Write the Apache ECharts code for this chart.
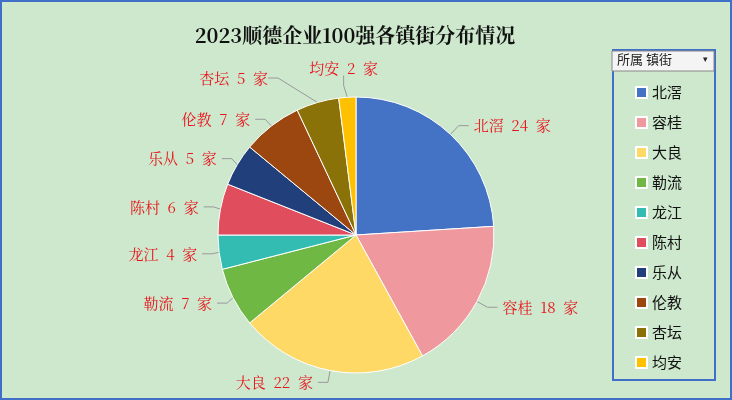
<!DOCTYPE html><html><head><meta charset="utf-8">
<script src="https://cdn.jsdelivr.net/npm/echarts@6/dist/echarts.min.js"></script>
<style>html,body{margin:0;padding:0;}#c{width:732px;height:400px;}</style></head><body><div id="c"></div>
<script>
const towns=['北滘','容桂','大良','勒流','龙江','陈村','乐从','伦教','杏坛','均安'];
const counts=[24,18,22,7,4,6,5,7,5,2];
const colors=['#4472C4','#EF989D','#FFD966','#70B844','#33BDB2','#E04D5D','#213F7B','#9C4710','#8B7208','#FFC000'];
const chart=echarts.init(document.getElementById('c'));
chart.setOption({
  backgroundColor:'#CDE8CD',
  title:{text:'2023顺德企业100强各镇街分布情况',left:350,textAlign:'center',top:20,textStyle:{fontFamily:'Noto Serif CJK SC, Noto Sans CJK SC',fontWeight:'bold',fontSize:20,color:'#111'}},
  legend:{orient:'vertical',left:630,top:80,itemWidth:11,itemHeight:11,itemGap:15,icon:'rect',
    textStyle:{fontFamily:'Noto Sans CJK SC',fontSize:15,color:'#111'},data:towns},
  graphic:[
    {type:'rect',shape:{x:1,y:1,width:730,height:398},style:{fill:'none',stroke:'#3F6FC6',lineWidth:2}},
    {type:'rect',shape:{x:613,y:50,width:102,height:330},style:{fill:'none',stroke:'#3F6FC6',lineWidth:2}},
    {type:'rect',shape:{x:612,y:51,width:102,height:20},style:{fill:'#F4F4F4',stroke:'#888',lineWidth:1}},
    {type:'text',left:617,top:53,style:{text:'所属 镇街',font:'13px "Noto Sans CJK SC"',fill:'#222'}},
    {type:'text',left:703,top:55,style:{text:'▾',font:'9px sans-serif',fill:'#222'}}
  ],
  series:[{type:'pie',center:[356,235],radius:138,startAngle:90,clockwise:true,
    itemStyle:{borderColor:'#fff',borderWidth:1},
    label:{formatter:'{b}  {c}  家',color:'#E8141B',fontSize:15,fontFamily:'Noto Serif CJK SC, Noto Sans CJK SC'},
    labelLine:{length:12,length2:10,lineStyle:{color:'#999'}},
    labelLayout:function(p){
      if(p.dataIndex===9) return {x:378,y:68};
      if(p.dataIndex===8) return {x:268,y:78};
      return {};
    },
    data:towns.map((t,i)=>({name:t,value:counts[i],itemStyle:{color:colors[i]}}))
  }]
});
</script></body></html>
